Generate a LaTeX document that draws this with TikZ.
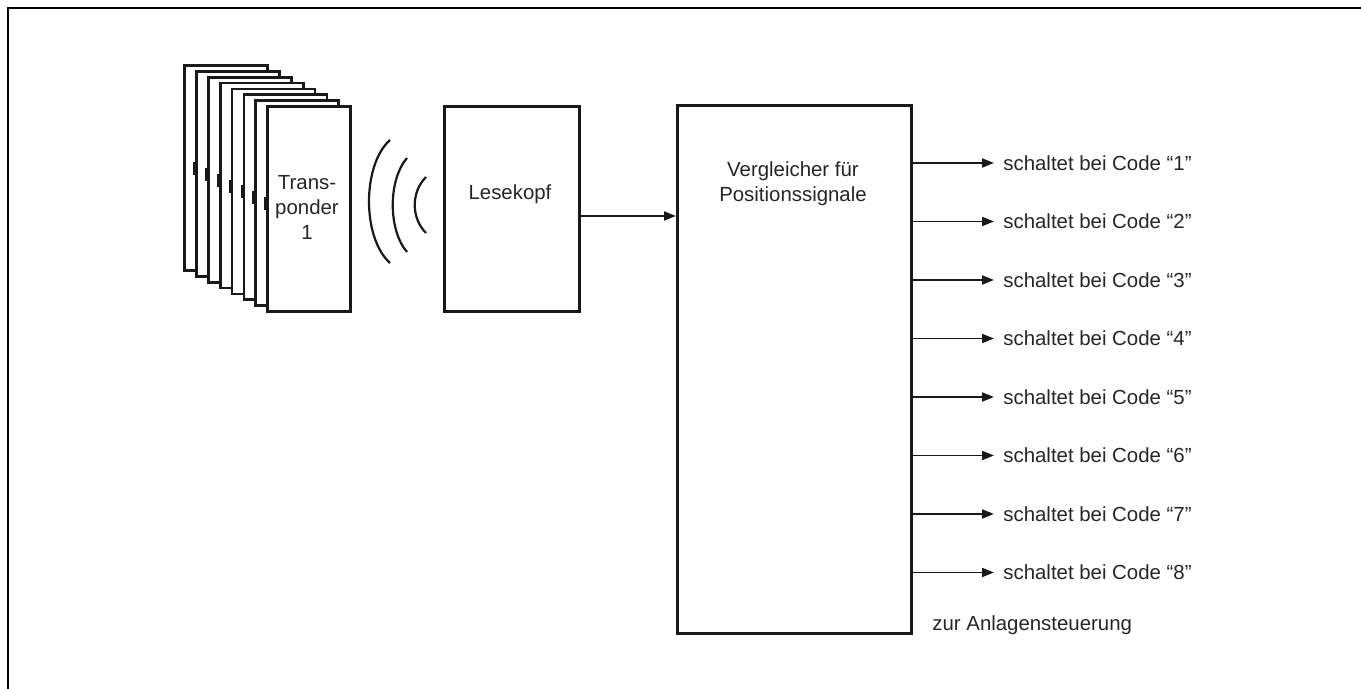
\documentclass[tikz,border=0pt]{standalone}
\usepackage{fontspec}
\setmainfont{Liberation Sans}
\usetikzlibrary{arrows.meta}
\begin{document}
\begin{tikzpicture}[x=0.5pt,y=-0.5pt,
  every node/.style={font=\fontsize{10.2}{12.5}\selectfont, text=black!85},
  box/.style={draw=black!90, line width=1.4pt, fill=white, inner sep=0pt, anchor=north west},
  card/.style={box, minimum width=41.5pt, minimum height=102.5pt},
  arr/.style={line width=0.9pt, draw=black!90, -{Triangle[length=6pt,width=4.5pt]}},
  lbl/.style={inner sep=0pt, anchor=west},
  wave/.style={line width=1.1pt, draw=black!90},
  frame/.style={line width=1pt, draw=black}]
\useasboundingbox (0,0) rectangle (1361,689);
% outer frame (top and left only)
\draw[frame] (8,689) -- (8,8) -- (1361,8);
% transponder stack
\foreach \i in {0,...,7}{
  \node[card] (t\i) at ({183+11.9*\i},{64+5.9*\i}) {};
  \ifnum\i>0
    \draw[line width=2pt, draw=black!90] ([yshift=-46pt]t\i.north west) -- ++(0,13);
  \fi
}
\node[align=center] (ttext) at (307,207) {Trans-\\ponder\\1};
% waves
\draw[wave] (390,140) .. controls (362,165) and (362,238) .. (390,263);
\draw[wave] (407,158) .. controls (388,180) and (388,230) .. (407,252);
\draw[wave] (426,177) .. controls (411,192) and (411,218) .. (426,233);
% reader
\node[box, minimum width=67.5pt, minimum height=102.5pt] (L) at (443,105) {};
\node (Ltext) at (510,194) {Lesekopf};
% comparator
\node[box, minimum width=117pt, minimum height=264pt] (V) at (676,104) {};
\node[align=center] (Vtext) at (793,184) {Vergleicher für\\Positionssignale};
\coordinate (a) at (0,216);
\draw[arr] (L.east |- a) -- (V.west |- a);
% outputs
\foreach \k in {1,...,8}{
  \node[lbl] (o\k) at (1003,{163+58.5*(\k-1)}) {schaltet bei Code “\k”};
  \draw[arr] (V.east |- o\k.west) -- ([xshift=-4.5pt]o\k.west);
}
\node[lbl] (zur) at (932,625) {zur Anlagensteuerung};
\end{tikzpicture}
\end{document}
